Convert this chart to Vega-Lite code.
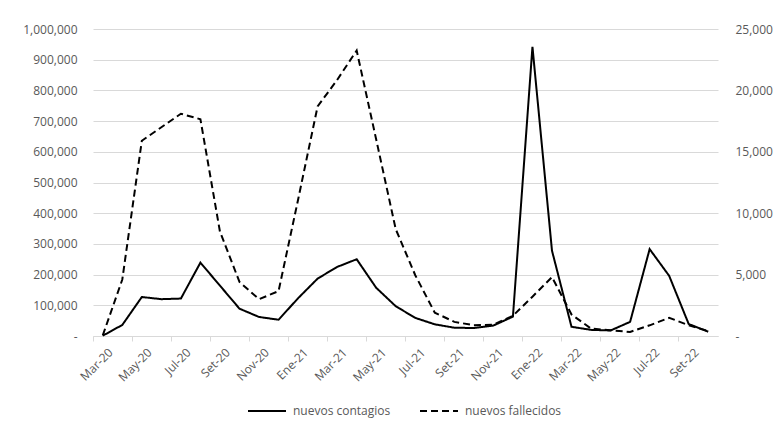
{
  "$schema": "https://vega.github.io/schema/vega-lite/v6.json",
  "width": 625,
  "height": 307,
  "autosize": {"type": "none"},
  "padding": {"left": 93, "top": 29, "right": 63, "bottom": 92},
  "background": "white",
  "config": {
    "view": {"stroke": null},
    "font": "Open Sans",
    "axis": {"labelColor": "#595959", "labelFontSize": 12, "title": null}
  },
  "data": {
    "values": [
      {"mes": "Mar-20", "contagios": 1000, "fallecidos": 50},
      {"mes": "Abr-20", "contagios": 36000, "fallecidos": 4600},
      {"mes": "May-20", "contagios": 127000, "fallecidos": 15900},
      {"mes": "Jun-20", "contagios": 120000, "fallecidos": 17000},
      {"mes": "Jul-20", "contagios": 122000, "fallecidos": 18100},
      {"mes": "Ago-20", "contagios": 239000, "fallecidos": 17650},
      {"mes": "Set-20", "contagios": 164000, "fallecidos": 8500},
      {"mes": "Oct-20", "contagios": 89000, "fallecidos": 4400},
      {"mes": "Nov-20", "contagios": 62000, "fallecidos": 3000},
      {"mes": "Dic-20", "contagios": 53000, "fallecidos": 3650},
      {"mes": "Ene-21", "contagios": 123000, "fallecidos": 11100},
      {"mes": "Feb-21", "contagios": 187000, "fallecidos": 18700},
      {"mes": "Mar-21", "contagios": 225000, "fallecidos": 20850},
      {"mes": "Abr-21", "contagios": 250000, "fallecidos": 23250},
      {"mes": "May-21", "contagios": 157000, "fallecidos": 16000},
      {"mes": "Jun-21", "contagios": 97000, "fallecidos": 8700},
      {"mes": "Jul-21", "contagios": 59000, "fallecidos": 4950},
      {"mes": "Ago-21", "contagios": 38000, "fallecidos": 1900},
      {"mes": "Set-21", "contagios": 27000, "fallecidos": 1150},
      {"mes": "Oct-21", "contagios": 26000, "fallecidos": 880},
      {"mes": "Nov-21", "contagios": 34000, "fallecidos": 920},
      {"mes": "Dic-21", "contagios": 63000, "fallecidos": 1650},
      {"mes": "Ene-22", "contagios": 942000, "fallecidos": 3200},
      {"mes": "Feb-22", "contagios": 278000, "fallecidos": 4800},
      {"mes": "Mar-22", "contagios": 30000, "fallecidos": 1750},
      {"mes": "Abr-22", "contagios": 20000, "fallecidos": 600},
      {"mes": "May-22", "contagios": 18000, "fallecidos": 470},
      {"mes": "Jun-22", "contagios": 46000, "fallecidos": 330},
      {"mes": "Jul-22", "contagios": 283000, "fallecidos": 870},
      {"mes": "Ago-22", "contagios": 196000, "fallecidos": 1480},
      {"mes": "Set-22", "contagios": 39000, "fallecidos": 880},
      {"mes": "Oct-22", "contagios": 14000, "fallecidos": 400}
    ]
  },
  "encoding": {
    "x": {
      "field": "mes",
      "type": "ordinal",
      "sort": null,
      "scale": {"type": "band", "paddingInner": 0, "paddingOuter": 0},
      "axis": {
        "values": ["Mar-20", "May-20", "Jul-20", "Set-20", "Nov-20", "Ene-21", "Mar-21", "May-21", "Jul-21", "Set-21", "Nov-21", "Ene-22", "Mar-22", "May-22", "Jul-22", "Set-22"],
        "bandPosition": 0,
        "labelAngle": -45,
        "labelAlign": "right",
        "labelBaseline": "middle",
        "labelOffset": 8,
        "labelPadding": 9,
        "tickSize": 5,
        "tickColor": "#d9d9d9",
        "domainColor": "#d9d9d9",
        "grid": false
      }
    }
  },
  "layer": [
    {
      "mark": {"type": "line", "color": "black", "strokeWidth": 2},
      "encoding": {
        "y": {
          "field": "contagios",
          "type": "quantitative",
          "scale": {"domain": [0, 1000000]},
          "axis": {
            "values": [0, 100000, 200000, 300000, 400000, 500000, 600000, 700000, 800000, 900000, 1000000],
            "labelExpr": "datum.value === 0 ? '-\u00a0\u00a0' : format(datum.value, ',')",
            "ticks": false,
            "domain": false,
            "grid": true,
            "gridColor": "#d9d9d9",
            "labelPadding": 16
          }
        },
        "strokeDash": {
          "datum": "nuevos contagios",
          "type": "nominal",
          "scale": {"domain": ["nuevos contagios", "nuevos fallecidos"], "range": [[1, 0], [7, 4]]},
          "legend": {
            "title": null,
            "orient": "none",
            "direction": "horizontal",
            "legendX": 154,
            "legendY": 362,
            "padding": 0,
            "symbolType": "stroke",
            "symbolSize": 1444,
            "symbolStrokeWidth": 2,
            "symbolStrokeColor": "black",
            "labelFontSize": 12,
            "labelColor": "#595959",
            "labelOffset": 6,
            "columnPadding": 25
          }
        }
      }
    },
    {
      "mark": {"type": "line", "color": "black", "strokeWidth": 2},
      "encoding": {
        "y": {
          "field": "fallecidos",
          "type": "quantitative",
          "scale": {"domain": [0, 25000]},
          "axis": {
            "orient": "right",
            "values": [0, 5000, 10000, 15000, 20000, 25000],
            "labelExpr": "datum.value === 0 ? '-' : format(datum.value, ',')",
            "ticks": false,
            "domain": false,
            "grid": false,
            "labelPadding": 17
          }
        },
        "strokeDash": {"datum": "nuevos fallecidos", "type": "nominal"}
      }
    }
  ],
  "resolve": {"scale": {"y": "independent"}}
}
